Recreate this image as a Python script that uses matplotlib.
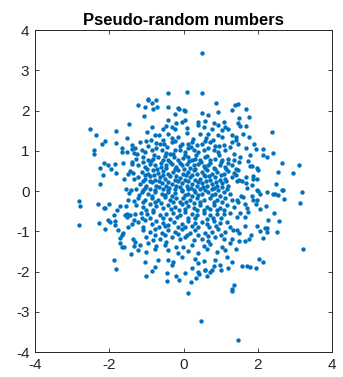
import matplotlib
matplotlib.use('Agg')
import matplotlib.pyplot as plt
import numpy as np

plt.rcParams['font.family'] = ['Liberation Sans', 'DejaVu Sans']
plt.rcParams['axes.unicode_minus'] = False

# points (x, y), outer ring first
outer_pts = [
    (0.49, 3.43), (-0.41, 2.44), (0.09, 2.47), (0.49, 2.43), (0.87, 2.19), (-0.95, 2.30),
    (-0.95, 2.26), (-0.74, 2.27), (-0.84, 2.19), (-1.23, 2.13), (-1.04, 2.09), (-0.72, 2.09),
    (-0.43, 2.09), (-0.14, 2.07), (-0.11, 2.05), (0.02, 2.01), (-0.81, 2.04), (1.39, 2.14),
    (1.46, 2.16), (1.67, 2.04),
    (-2.51, 1.55), (-2.37, 1.39), (-1.81, 1.50), (-1.47, 1.68), (-2.11, 1.25), (-2.20, 1.18),
    (-1.83, 1.19), (-1.52, 1.32), (-1.40, 1.14), (-2.42, 1.02), (-2.42, 0.92), (-1.66, 1.07),
    (-1.66, 0.98), (-1.53, 0.97), (-1.40, 1.04), (-1.33, 0.95), (-2.13, 0.69), (-2.04, 0.64),
    (-1.85, 0.68), (-1.62, 0.69), (-1.40, 0.73), (-1.40, 0.67), (-2.25, 0.57), (-1.95, 0.55),
    (-1.83, 0.44), (-2.16, 0.39), (-1.50, 0.42), (-1.44, 0.49), (-1.35, 0.44), (-1.61, 0.29),
    (-1.34, 0.30), (-2.25, 0.17), (-1.56, 0.06), (-1.41, 0.04),
    (1.49, 1.82), (1.76, 1.83), (1.48, 1.70), (1.51, 1.62), (1.67, 1.61), (2.37, 1.46),
    (1.59, 1.42), (1.77, 1.35), (1.41, 1.35), (1.41, 1.27), (1.48, 1.16), (1.90, 1.17),
    (1.69, 1.07), (1.96, 1.05), (2.14, 1.04), (2.41, 0.94), (1.80, 0.91), (2.14, 0.90),
    (2.25, 0.84), (1.53, 0.84), (1.50, 0.73), (1.75, 0.75), (2.65, 0.70), (3.10, 0.64),
    (1.79, 0.63), (1.84, 0.63), (1.98, 0.58), (2.01, 0.52), (2.54, 0.48), (2.96, 0.46),
    (1.41, 0.54), (1.48, 0.52), (1.41, 0.40), (1.50, 0.27), (1.43, 0.24), (1.57, 0.26),
    (1.67, 0.36), (1.86, 0.37), (1.86, 0.30), (1.97, 0.31), (1.67, 0.21), (1.84, 0.16),
    (2.50, 0.17), (1.70, 0.09), (1.99, 0.04), (2.65, 0.04),
    (-2.82, -0.24), (-2.80, -0.36), (-2.82, -0.84), (-2.30, -0.32), (-2.14, -0.43),
    (-2.11, -0.41), (-2.01, -0.32), (-2.28, -0.79), (-2.11, -0.94), (-2.03, -0.72),
    (-1.98, -0.76), (-1.85, -0.74), (-1.85, -0.85), (-1.87, -0.60), (-1.80, -0.48),
    (-1.72, -0.38), (-1.58, -0.60), (-1.52, -0.57), (-1.53, -0.65), (-1.44, -0.60),
    (-1.54, -0.36), (-1.50, -0.22), (-1.34, -0.25), (-1.47, -0.04), (-1.34, -0.72),
    (-1.38, -0.82), (-1.50, -0.90), (-1.76, -0.97), (-1.62, -1.04), (-1.65, -1.09),
    (-1.70, -1.16), (-1.71, -1.28), (-1.66, -1.38), (-1.60, -1.40), (-1.37, -1.20),
    (-1.34, -1.37), (-1.41, -1.55), (-1.87, -1.71), (-1.82, -1.94),
    (1.55, -0.11), (1.61, -0.14), (1.84, -0.11), (2.00, 0.01), (2.06, -0.06), (2.25, -0.02),
    (2.42, -0.06), (2.46, -0.08), (2.54, -0.10), (2.67, 0.02), (3.18, -0.02), (2.70, -0.19),
    (3.15, -0.29), (1.43, -0.22), (1.48, -0.26), (1.66, -0.33), (1.70, -0.43), (1.75, -0.51),
    (1.66, -0.64), (1.52, -0.55), (1.43, -0.64), (1.88, -0.22), (1.97, -0.22), (1.96, -0.32),
    (2.06, -0.44), (2.23, -0.37), (2.45, -0.54), (2.28, -0.72), (2.57, -0.75), (1.66, -0.86),
    (1.99, -0.87), (2.20, -0.91), (2.26, -0.92), (2.26, -1.02), (2.06, -0.99), (2.51, -1.01),
    (1.43, -0.97), (1.49, -1.04), (1.81, -1.08), (1.76, -1.20), (2.14, -1.16), (1.49, -1.23),
    (1.66, -1.25), (1.41, -1.44), (3.22, -1.45), (2.03, -1.68), (2.14, -1.76), (1.57, -1.86),
    (1.70, -1.86), (1.79, -1.89), (1.96, -1.91),
    (-1.01, -2.11), (-0.84, -1.99), (-0.44, -2.03), (-0.44, -2.24), (-0.21, -2.10),
    (-0.13, -2.20), (0.04, -2.03), (0.11, -2.53), (0.19, -2.25), (0.33, -2.17), (0.40, -2.00),
    (0.42, -2.06), (0.58, -1.96), (0.71, -2.00), (0.77, -1.96), (0.64, -2.11), (0.47, -3.23),
    (1.35, -2.34), (1.30, -2.44), (1.31, -2.48), (1.00, -1.96), (1.48, -3.70),
]

# dense core, upper half (y > 0)
core_upper = [
    (-1.06, 1.87), (-0.23, 1.91), (0.04, 1.99), (0.49, 1.93), (0.65, 1.89), (0.92, 1.97), (1.30, 2.01),
    (-0.43, 1.78), (-0.19, 1.69), (-0.05, 1.72), (0.04, 1.76), (0.40, 1.72), (0.58, 1.74),
    (0.83, 1.69), (0.94, 1.64), (1.08, 1.72),
    (-0.86, 1.60), (-0.48, 1.61), (-0.55, 1.55), (-0.32, 1.60), (-0.23, 1.55), (0.09, 1.58),
    (0.40, 1.64), (0.54, 1.60), (0.76, 1.55), (1.12, 1.60), (1.03, 1.51), (1.21, 1.55),
    (-0.97, 1.47), (-0.77, 1.39), (-0.66, 1.39), (-0.41, 1.41), (-0.14, 1.35), (0.09, 1.45),
    (0.45, 1.43), (0.67, 1.41), (0.94, 1.39), (1.05, 1.35), (1.30, 1.39),
    (-1.18, 1.22), (-1.00, 1.25), (-0.88, 1.26), (-0.73, 1.20), (-0.64, 1.16), (-0.52, 1.18),
    (-0.32, 1.22), (-0.23, 1.25), (-0.05, 1.18), (0.13, 1.18), (0.24, 1.22), (0.35, 1.14),
    (0.49, 1.18), (0.58, 1.25), (0.72, 1.21), (0.85, 1.11), (1.08, 1.14), (1.30, 1.22),
    (-1.31, 1.06), (-1.13, 1.01), (-1.24, 0.93), (-1.04, 0.97), (-0.86, 1.01), (-0.73, 1.06),
    (-0.59, 1.01), (-0.46, 0.95), (-0.37, 0.93), (-0.23, 1.03), (-0.10, 1.01), (0.04, 0.97),
    (0.13, 1.06), (0.27, 1.01), (0.40, 0.97), (0.54, 1.03), (0.67, 1.06), (0.83, 1.01),
    (0.94, 0.97), (1.12, 1.01), (1.26, 1.10), (1.35, 0.93),
    (-1.27, 0.81), (-1.09, 0.85), (-0.95, 0.77), (-0.82, 0.81), (-0.68, 0.85), (-0.55, 0.77),
    (-0.41, 0.78), (-0.25, 0.85), (-0.14, 0.78), (-0.01, 0.83), (0.13, 0.85), (0.22, 0.77),
    (0.31, 0.81), (0.45, 0.78), (0.58, 0.85), (0.72, 0.77), (0.85, 0.81), (1.03, 0.77),
    (1.21, 0.81), (1.35, 0.77),
    (-1.22, 0.64), (-1.04, 0.60), (-0.91, 0.68), (-0.77, 0.64), (-0.61, 0.60), (-0.46, 0.64),
    (-0.32, 0.68), (-0.19, 0.60), (-0.05, 0.64), (0.09, 0.68), (0.18, 0.58), (0.29, 0.64),
    (0.40, 0.68), (0.54, 0.62), (0.67, 0.64), (0.81, 0.58), (0.99, 0.64), (1.12, 0.60), (1.30, 0.64),
    (-1.13, 0.47), (-0.95, 0.43), (-0.82, 0.52), (-0.68, 0.45), (-0.55, 0.50), (-0.41, 0.43),
    (-0.28, 0.47), (-0.14, 0.52), (-0.01, 0.43), (0.13, 0.47), (0.27, 0.52), (0.36, 0.42),
    (0.49, 0.47), (0.63, 0.52), (0.76, 0.43), (0.90, 0.47), (1.08, 0.43), (1.21, 0.50), (1.35, 0.45),
    (-1.22, 0.35), (-1.04, 0.31), (-0.91, 0.37), (-0.77, 0.27), (-0.64, 0.35), (-0.50, 0.31),
    (-0.37, 0.37), (-0.23, 0.27), (-0.10, 0.33), (0.04, 0.28), (0.18, 0.35), (0.31, 0.27),
    (0.45, 0.31), (0.58, 0.37), (0.72, 0.28), (0.85, 0.35), (0.99, 0.27), (1.12, 0.31), (1.30, 0.35),
    (-1.18, 0.18), (-1.00, 0.14), (-0.86, 0.23), (-0.73, 0.14), (-0.59, 0.20), (-0.46, 0.12),
    (-0.32, 0.18), (-0.19, 0.12), (-0.05, 0.20), (0.09, 0.14), (0.22, 0.18), (0.36, 0.12),
    (0.49, 0.20), (0.63, 0.14), (0.76, 0.18), (0.90, 0.12), (1.03, 0.20), (1.21, 0.14),
    (-1.27, 0.06), (-1.09, 0.03), (-0.91, 0.06), (-0.77, 0.02), (-0.55, 0.06), (-0.41, 0.03),
    (-0.23, 0.06), (-0.05, 0.03), (0.13, 0.06), (0.27, 0.03), (0.45, 0.06), (0.58, 0.03),
    (0.76, 0.06), (0.94, 0.03), (1.17, 0.06),
    # in-between dots of the crowded middle
    (-0.55, 1.28), (-0.30, 1.31), (0.25, 1.30), (0.60, 1.32), (0.80, 1.28),
    (-0.95, 1.12), (-0.45, 1.10), (-0.10, 1.12), (0.20, 1.10), (0.95, 1.12),
    (-0.80, 0.90), (-0.50, 0.88), (-0.28, 0.92), (0.05, 0.89), (0.33, 0.91), (0.62, 0.88), (0.95, 0.90),
    (-1.10, 0.72), (-0.87, 0.74), (-0.60, 0.70), (-0.36, 0.73), (-0.10, 0.71), (0.15, 0.74),
    (0.47, 0.72), (0.72, 0.70), (1.00, 0.73), (1.20, 0.70),
    (-0.98, 0.56), (-0.72, 0.55), (-0.48, 0.57), (-0.22, 0.54), (0.02, 0.56), (0.32, 0.55),
    (0.58, 0.57), (0.85, 0.54), (1.15, 0.56),
    (-1.05, 0.40), (-0.80, 0.39), (-0.55, 0.41), (-0.20, 0.38), (0.07, 0.40), (0.23, 0.39),
    (0.55, 0.41), (0.70, 0.38), (1.00, 0.40),
    (-1.10, 0.25), (-0.90, 0.24), (-0.65, 0.25), (-0.42, 0.23), (-0.15, 0.25), (0.12, 0.24),
    (0.40, 0.22), (0.60, 0.25), (0.88, 0.23), (1.15, 0.24),
    (-1.05, 0.09), (-0.67, 0.10), (-0.38, 0.08), (-0.10, 0.10), (0.20, 0.09), (0.52, 0.10),
    (0.82, 0.08), (1.05, 0.10),
]

# dense core, lower half (y < 0)
core_lower = [
    (-1.13, -0.02), (-0.95, -0.06), (-0.77, -0.02), (-0.59, -0.07), (-0.41, -0.02), (-0.23, -0.04),
    (-0.05, 0.01), (0.13, -0.06), (0.31, -0.02), (0.49, -0.07), (0.67, -0.02), (0.85, -0.06),
    (1.08, -0.02), (1.26, -0.07),
    (-1.22, -0.18), (-1.04, -0.22), (-0.86, -0.16), (-0.68, -0.21), (-0.50, -0.14), (-0.37, -0.22),
    (-0.19, -0.18), (-0.01, -0.16), (0.18, -0.22), (0.36, -0.18), (0.54, -0.21), (0.72, -0.16),
    (0.90, -0.22), (1.12, -0.18), (1.30, -0.22),
    (-1.27, -0.35), (-1.09, -0.39), (-0.91, -0.32), (-0.73, -0.37), (-0.55, -0.43), (-0.41, -0.35),
    (-0.23, -0.39), (-0.05, -0.32), (0.13, -0.37), (0.27, -0.43), (0.45, -0.35), (0.63, -0.39),
    (0.81, -0.35), (0.99, -0.41), (1.17, -0.35), (1.35, -0.39),
    (-1.31, -0.56), (-1.15, -0.54), (-0.97, -0.57), (-0.82, -0.51), (-0.64, -0.60), (-0.46, -0.56),
    (-0.28, -0.54), (-0.10, -0.60), (0.04, -0.51), (0.22, -0.57), (0.36, -0.60), (0.54, -0.54),
    (0.72, -0.60), (0.90, -0.56), (1.08, -0.57), (1.26, -0.54),
    (-1.22, -0.76), (-1.04, -0.72), (-0.86, -0.81), (-0.73, -0.74), (-0.55, -0.79), (-0.41, -0.85),
    (-0.25, -0.76), (-0.05, -0.81), (0.13, -0.74), (0.31, -0.79), (0.49, -0.76), (0.63, -0.81),
    (0.81, -0.74), (0.99, -0.79), (1.17, -0.76),
    (-1.09, -0.97), (-0.91, -1.01), (-0.77, -0.95), (-0.59, -1.04), (-0.41, -0.97), (-0.23, -1.01),
    (-0.05, -0.95), (0.18, -1.05), (0.31, -0.97), (0.58, -1.04), (0.76, -1.01), (0.94, -0.95),
    (1.12, -1.01), (1.32, -0.97),
    (-1.00, -1.14), (-0.82, -1.22), (-0.64, -1.18), (-0.46, -1.26), (-0.32, -1.15), (-0.10, -1.20),
    (0.04, -1.14), (0.27, -1.22), (0.49, -1.18), (0.67, -1.24), (0.85, -1.14), (1.08, -1.20), (1.30, -1.18),
    (-1.31, -1.26), (-1.18, -1.34), (-0.95, -1.30), (-0.73, -1.37), (-0.50, -1.34), (-0.19, -1.39),
    (-0.01, -1.40), (0.22, -1.34), (0.54, -1.37), (0.72, -1.32), (1.03, -1.39), (1.26, -1.30),
    (-1.22, -1.47), (-1.00, -1.51), (-0.77, -1.45), (-0.41, -1.47), (-0.14, -1.54), (0.13, -1.49),
    (0.40, -1.54), (0.63, -1.45), (0.90, -1.51), (1.12, -1.47),
    (-1.04, -1.76), (-0.68, -1.72), (-0.41, -1.70), (-0.28, -1.76), (-0.05, -1.64), (0.31, -1.68),
    (0.40, -1.78), (0.54, -1.74), (0.85, -1.72), (0.99, -1.84), (1.17, -1.64), (1.30, -1.76),
    (-0.77, -1.88), (-0.32, -1.84), (0.22, -1.90), (0.58, -1.95), (0.81, -1.87), (1.21, -1.90),
    # in-between dots of the crowded middle
    (-1.20, -0.10), (-0.85, -0.11), (-0.50, -0.09), (-0.30, -0.11), (0.05, -0.10), (0.22, -0.11),
    (0.40, -0.09), (0.76, -0.10), (0.98, -0.12),
    (-1.10, -0.28), (-0.78, -0.27), (-0.60, -0.29), (-0.28, -0.27), (-0.10, -0.28), (0.08, -0.26),
    (0.27, -0.29), (0.45, -0.27), (0.82, -0.28), (1.05, -0.26),
    (-1.00, -0.47), (-0.82, -0.46), (-0.35, -0.45), (-0.13, -0.47), (0.05, -0.44), (0.35, -0.46),
    (0.55, -0.47), (0.72, -0.45), (0.90, -0.47), (1.10, -0.46),
    (-1.12, -0.66), (-0.90, -0.67), (-0.55, -0.66), (-0.37, -0.68), (-0.18, -0.65), (0.13, -0.67),
    (0.30, -0.66), (0.63, -0.68), (0.80, -0.66), (1.00, -0.67),
    (-1.10, -0.88), (-0.66, -0.89), (-0.50, -0.87), (-0.15, -0.88), (0.05, -0.90), (0.22, -0.87),
    (0.40, -0.89), (0.70, -0.88), (0.88, -0.86), (1.25, -0.88),
    (-0.78, -1.08), (-0.50, -1.10), (-0.15, -1.07), (0.10, -1.09), (0.40, -1.08), (0.66, -1.12),
    (1.00, -1.08),
]

x_ticks = [-4, -2, 0, 2, 4]
y_ticks = [-4, -3, -2, -1, 0, 1, 2, 3, 4]
title_text = 'Pseudo-random numbers'

pts = np.array(outer_pts + core_upper + core_lower)

fig = plt.figure(figsize=(3.43, 3.77), dpi=100)
ax = fig.add_axes([0.102, 0.066, 0.866, 0.854])
ax.scatter(pts[:, 0], pts[:, 1], s=10, color='#0072BD', linewidths=0)

ax.set_xlim(-4, 4)
ax.set_ylim(-4, 4)
ax.set_xticks(x_ticks)
ax.set_yticks(y_ticks)
ax.tick_params(direction='in', length=3, width=0.6, top=True, right=True,
               labelsize=11, colors='#262626', pad=4)
for sp in ax.spines.values():
    sp.set_linewidth(0.7)
    sp.set_color('#262626')
ax.set_title(title_text, fontsize=12, fontweight='bold', pad=4)

fig.savefig('out.png', dpi=100)
